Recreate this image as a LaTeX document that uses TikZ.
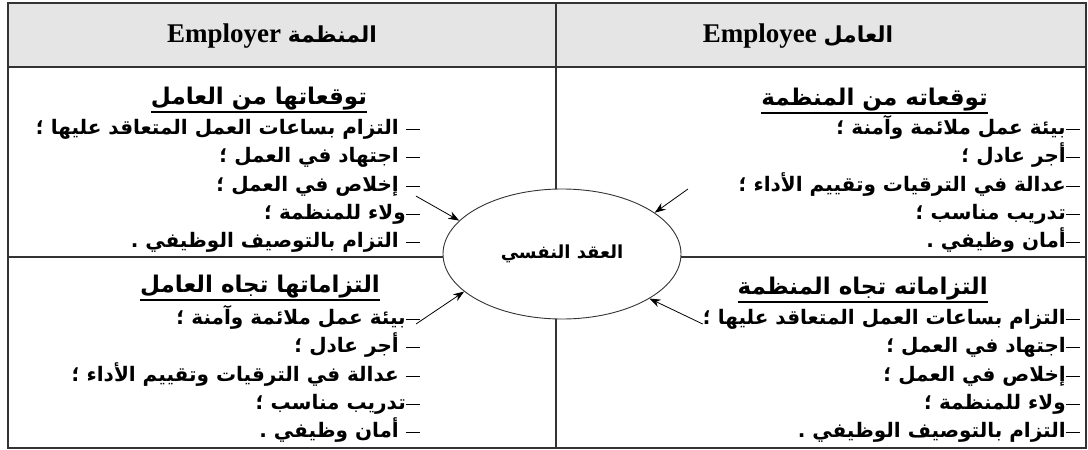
\documentclass[tikz,border=0pt]{standalone}
\usepackage{fontspec}
\setmainfont{Liberation Serif}
\newfontfamily\arabicfont[Script=Arabic]{DejaVu Sans}
\TeXXeTstate=1
\usetikzlibrary{shapes,arrows,arrows.meta,positioning,calc}
\newcommand{\artext}[1]{{\arabicfont\bfseries\beginR #1\endR}}
\newcommand{\itemdash}{\hbox{\rule[4pt]{14pt}{1.3pt}}}
\tikzset{
    itemtext/.style={anchor=base east, inner sep=0pt, font=\fontsize{20}{22}\selectfont},
    headtext/.style={anchor=base, inner sep=0pt, font=\fontsize{23}{25}\selectfont},
    rule/.style={line width=1.3pt, draw=black!80},
}

\begin{document}
\begin{tikzpicture}[x=1pt, y=-1pt, >={Stealth[length=11pt,width=8pt]}]
        \useasboundingbox (0,0) rectangle (1088,450);

        % Frame
        \fill[gray!20] (8,3) rectangle (1086,67);
        \draw[rule, line width=1.6pt] (8,3) rectangle (1086,448);
        \draw[rule] (8,67) -- (1086,67);
        \draw[rule] (556,3) -- (556,448);
        \draw[rule] (8,257) -- (1086,257);

        % Header
        \node[font=\fontsize{27}{29}\selectfont\bfseries] (employer) at (272,36) {Employer {\fontsize{22}{24}\selectfont\artext{المنظمة}}};
        \node[font=\fontsize{27}{29}\selectfont\bfseries] (employee) at (798,36) {Employee {\fontsize{22}{24}\selectfont\artext{العامل}}};

        % Contract
        \node[ellipse, draw=black!80, line width=0.9pt, fill=white, minimum width=238pt, minimum height=130pt, inner sep=0pt,
              font=\fontsize{18}{20}\selectfont] (contract) at (562,254) {\artext{العقد النفسي}};

        % Employer expectations
        \node[headtext] (hlt) at (259,104) {\artext{توقعاتها من العامل}};
        \draw[line width=1.5pt] ([yshift=-8pt]hlt.base west) -- ([yshift=-8pt]hlt.base east);
        \node[itemtext] (lt1) at (420,134) {\artext{\itemdash{} التزام بساعات العمل المتعاقد عليها ؛}};
        \node[itemtext] (lt2) at (420,162) {\artext{\itemdash{} اجتهاد في العمل ؛}};
        \node[itemtext] (lt3) at (420,191) {\artext{\itemdash{} إخلاص في العمل ؛}};
        \node[itemtext] (lt4) at (420,219) {\artext{\itemdash ولاء للمنظمة ؛}};
        \node[itemtext] (lt5) at (420,247) {\artext{\itemdash{} التزام بالتوصيف الوظيفي .}};

        % Employee expectations
        \node[headtext, anchor=base east] (hrt) at (988,105) {\artext{توقعاته من المنظمة}};
        \draw[line width=1.5pt] ([yshift=-8pt]hrt.base west) -- ([yshift=-8pt]hrt.base east);
        \node[itemtext] (rt1) at (1080,134) {\artext{\itemdash بيئة عمل ملائمة وآمنة ؛}};
        \node[itemtext] (rt2) at (1080,162) {\artext{\itemdash أجر عادل ؛}};
        \node[itemtext] (rt3) at (1080,191) {\artext{\itemdash عدالة في الترقيات وتقييم الأداء ؛}};
        \node[itemtext] (rt4) at (1080,219) {\artext{\itemdash تدريب مناسب ؛}};
        \node[itemtext] (rt5) at (1080,247) {\artext{\itemdash أمان وظيفي .}};

        % Employer obligations
        \node[headtext] (hlb) at (260,292) {\artext{التزاماتها تجاه العامل}};
        \draw[line width=1.5pt] ([yshift=-8pt]hlb.base west) -- ([yshift=-8pt]hlb.base east);
        \node[itemtext] (lb1) at (420,324) {\artext{\itemdash بيئة عمل ملائمة وآمنة ؛}};
        \node[itemtext] (lb2) at (420,352) {\artext{\itemdash{} أجر عادل ؛}};
        \node[itemtext] (lb3) at (420,381) {\artext{\itemdash{} عدالة في الترقيات وتقييم الأداء ؛}};
        \node[itemtext] (lb4) at (420,409) {\artext{\itemdash تدريب مناسب ؛}};
        \node[itemtext] (lb5) at (420,437) {\artext{\itemdash{} أمان وظيفي .}};

        % Employee obligations
        \node[headtext, anchor=base east] (hrb) at (988,294) {\artext{التزاماته تجاه المنظمة}};
        \draw[line width=1.5pt] ([yshift=-8pt]hrb.base west) -- ([yshift=-8pt]hrb.base east);
        \node[itemtext] (rb1) at (1080,324) {\artext{\itemdash التزام بساعات العمل المتعاقد عليها ؛}};
        \node[itemtext] (rb2) at (1080,352) {\artext{\itemdash اجتهاد في العمل ؛}};
        \node[itemtext] (rb3) at (1080,381) {\artext{\itemdash إخلاص في العمل ؛}};
        \node[itemtext] (rb4) at (1080,409) {\artext{\itemdash ولاء للمنظمة ؛}};
        \node[itemtext] (rb5) at (1080,437) {\artext{\itemdash التزام بالتوصيف الوظيفي .}};

        % Arrows
        \coordinate (trtail) at (688,189);
        \draw[->, thick] ([xshift=-4pt]lt3.south east) -- (contract.162);
        \draw[->, thick] (trtail) -- (contract.24);
        \draw[->, thick] ([xshift=-4pt]lb1.base east) -- (contract.-159);
        \draw[->, thick] (rb1.base west) -- (contract.-27);
    \end{tikzpicture}
\end{document}
